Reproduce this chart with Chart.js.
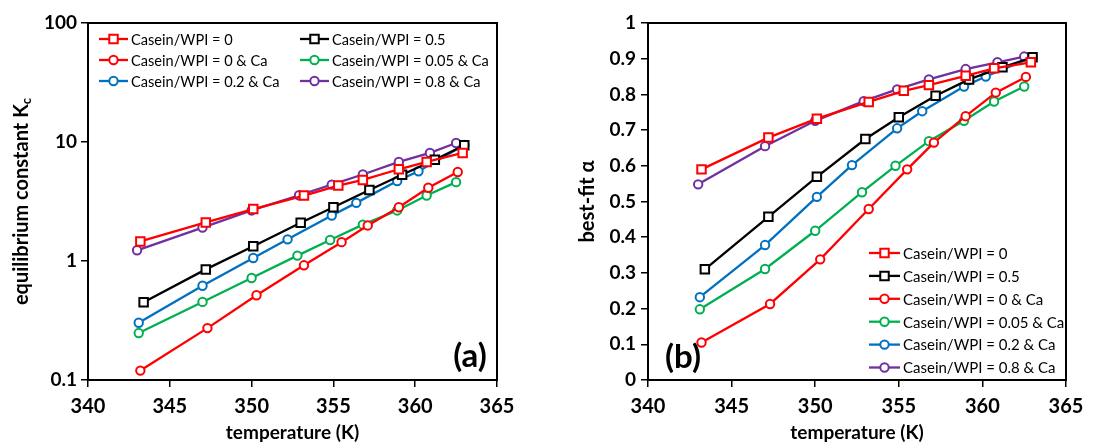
<!DOCTYPE html>
<html>
<head>
<meta charset="utf-8">
<script src="https://cdn.jsdelivr.net/npm/chart.js@4"></script>
<style>
  html, body { margin: 0; padding: 0; background: #fff; }
  #wrap { position: relative; width: 1104px; height: 446px; }
  .painel { position: absolute; top: 0; width: 552px; height: 446px; }
</style>
</head>
<body>
<div id="wrap">
  <div class="painel" style="left:0"><canvas id="graficoA" width="552" height="446"></canvas></div>
  <div class="painel" style="left:552px"><canvas id="graficoB" width="552" height="446"></canvas></div>
</div>
<script>
// series names / colours / markers
const series = ['Casein/WPI = 0', 'Casein/WPI = 0.5', 'Casein/WPI = 0 & Ca',
                'Casein/WPI = 0.05 & Ca', 'Casein/WPI = 0.2 & Ca', 'Casein/WPI = 0.8 & Ca'];
const cores = ['#ff0000', '#000000', '#ff0000', '#00b050', '#0070c0', '#7030a0'];
const marcadores = ['rect', 'rect', 'circle', 'circle', 'circle', 'circle'];

// temperatures (K) of each series
const temp0    = [343.2, 347.2, 350.1, 353.2, 355.3, 356.8, 359.0, 360.7, 362.9];
const temp05   = [343.4, 347.2, 350.1, 353.0, 355.0, 357.2, 359.2, 361.2, 363.0];
const temp0Ca  = [343.2, 347.3, 350.3, 353.2, 355.5, 357.1, 359.0, 360.8, 362.6];
const temp005Ca = [343.1, 347.0, 350.0, 352.8, 354.8, 356.8, 358.9, 360.7, 362.5];
const temp02Ca = [343.1, 347.0, 350.1, 352.2, 354.9, 356.4, 358.9, 360.2, 363.0];
const temp08Ca = [343.0, 347.0, 350.0, 352.9, 354.9, 356.8, 359.0, 360.9, 362.5];

// (a) equilibrium constant Kc
const kc0    = [1.46, 2.11, 2.73, 3.55, 4.30, 4.80, 5.90, 6.80, 8.10];
const kc05   = [0.45, 0.85, 1.33, 2.10, 2.83, 3.95, 5.30, 7.10, 9.40];
const kc0Ca  = [0.12, 0.273, 0.515, 0.92, 1.44, 1.99, 2.83, 4.13, 5.60];
const kc005Ca = [0.248, 0.453, 0.72, 1.11, 1.50, 2.02, 2.66, 3.55, 4.60];
const kc02Ca = [0.303, 0.62, 1.06, 1.52, 2.41, 3.08, 4.70, 5.68, 9.45];
const kc08Ca = [1.23, 1.91, 2.66, 3.57, 4.38, 5.33, 6.80, 8.10, 9.80];

// (b) best-fit alpha
const a0    = [0.590, 0.679, 0.732, 0.779, 0.810, 0.826, 0.852, 0.873, 0.890];
const a05   = [0.310, 0.457, 0.569, 0.675, 0.736, 0.796, 0.842, 0.876, 0.904];
const a0Ca  = [0.105, 0.213, 0.338, 0.479, 0.590, 0.665, 0.739, 0.805, 0.849];
const a005Ca = [0.198, 0.311, 0.418, 0.526, 0.600, 0.669, 0.726, 0.780, 0.822];
const a02Ca = [0.232, 0.378, 0.513, 0.602, 0.705, 0.753, 0.822, 0.850, 0.904];
const a08Ca = [0.548, 0.655, 0.726, 0.781, 0.814, 0.842, 0.871, 0.890, 0.906];

// axis ticks
const ticksX = [340, 345, 350, 355, 360, 365];
const ticksKc = [0.1, 1, 10, 100];

const temps = [temp0, temp05, temp0Ca, temp005Ca, temp02Ca, temp08Ca];
const valoresKc = [kc0, kc05, kc0Ca, kc005Ca, kc02Ca, kc08Ca];
const valoresAlfa = [a0, a05, a0Ca, a005Ca, a02Ca, a08Ca];

Chart.defaults.font.family = 'Lato';
Chart.defaults.color = '#000';

const RAIO_QUADRADO = 6;
const RAIO_CIRCULO = 4.2;

function montarDatasets(valores) {
  return series.map((nome, i) => ({
    label: nome,
    data: temps[i].map((t, j) => ({ x: t, y: valores[i][j] })),
    borderColor: cores[i],
    backgroundColor: '#fff',
    borderWidth: 2.3,
    pointStyle: marcadores[i],
    pointRadius: marcadores[i] === 'rect' ? RAIO_QUADRADO : RAIO_CIRCULO,
    pointBorderWidth: 2,
    pointBackgroundColor: '#fff',
    pointBorderColor: cores[i],
    tension: 0
  }));
}

function desenharMarcador(ctx, estilo, x, y, cor) {
  ctx.save();
  ctx.fillStyle = '#fff';
  ctx.strokeStyle = cor;
  ctx.lineWidth = 2;
  ctx.beginPath();
  if (estilo === 'rect') {
    const s = RAIO_QUADRADO * Math.SQRT1_2;
    ctx.rect(x - s, y - s, 2 * s, 2 * s);
  } else {
    ctx.arc(x, y, RAIO_CIRCULO, 0, Math.PI * 2);
  }
  ctx.fill();
  ctx.stroke();
  ctx.restore();
}

// legend drawn inside the plot area
const legendaPainel = {
  id: 'legendaPainel',
  afterDraw(chart, args, opts) {
    const ctx = chart.ctx;
    ctx.save();
    chart.data.datasets.forEach((ds, i) => {
      const col = i % opts.cols;
      const lin = Math.floor(i / opts.cols);
      const x = opts.x + col * opts.colWidth;
      const y = opts.y + lin * opts.rowHeight;
      ctx.strokeStyle = ds.borderColor;
      ctx.lineWidth = 2.3;
      ctx.beginPath();
      ctx.moveTo(x, y);
      ctx.lineTo(x + opts.lineLen, y);
      ctx.stroke();
      desenharMarcador(ctx, ds.pointStyle, x + opts.lineLen / 2, y, ds.borderColor);
      ctx.fillStyle = '#000';
      ctx.font = opts.fontSize + 'px Lato';
      ctx.textAlign = 'left';
      ctx.textBaseline = 'middle';
      ctx.fillText(ds.label, x + opts.lineLen + 3, y + 1);
    });
    ctx.restore();
  }
};

// frame, axis titles and panel letter
const molduraPainel = {
  id: 'molduraPainel',
  afterDraw(chart, args, opts) {
    const ctx = chart.ctx;
    const area = chart.chartArea;
    ctx.save();
    ctx.strokeStyle = '#000';
    ctx.lineWidth = 2;
    ctx.strokeRect(area.left, area.top, area.right - area.left, area.bottom - area.top);

    ctx.fillStyle = '#000';
    ctx.textBaseline = 'middle';
    ctx.textAlign = 'center';
    ctx.font = 'bold 19px Lato';
    ctx.fillText(opts.tituloX, (area.left + area.right) / 2, 433);

    // y title, rotated, with optional subscript
    ctx.save();
    ctx.translate(opts.tituloYx, (area.top + area.bottom) / 2);
    ctx.rotate(-Math.PI / 2);
    ctx.font = 'bold 20px Lato';
    const w1 = ctx.measureText(opts.tituloY).width;
    ctx.font = 'bold 13px Lato';
    const w2 = opts.subY ? ctx.measureText(opts.subY).width : 0;
    ctx.textAlign = 'left';
    ctx.font = 'bold 20px Lato';
    ctx.fillText(opts.tituloY, -(w1 + w2) / 2, 0);
    if (opts.subY) {
      ctx.font = 'bold 13px Lato';
      ctx.fillText(opts.subY, -(w1 + w2) / 2 + w1, 5);
    }
    ctx.restore();

    ctx.font = 'bold 33px Lato';
    ctx.textAlign = 'center';
    ctx.fillText(opts.letra, opts.letraX, opts.letraY);
    ctx.restore();
  }
};

function eixoX() {
  return {
    type: 'linear',
    min: 340,
    max: 365,
    afterBuildTicks: s => { s.ticks = ticksX.map(v => ({ value: v })); },
    afterFit: s => { s.height = 66; },
    ticks: { font: { size: 20, weight: 'bold' }, padding: 8, callback: v => String(v) },
    grid: { drawOnChartArea: false, tickLength: 7, color: '#000', lineWidth: 1.5 },
    border: { color: '#000', width: 2 }
  };
}

document.addEventListener('DOMContentLoaded', () => {
  new Chart(document.getElementById('graficoA'), {
    type: 'line',
    data: { datasets: montarDatasets(valoresKc) },
    plugins: [legendaPainel, molduraPainel],
    options: {
      responsive: false,
      animation: false,
      layout: { padding: { top: 23, right: 55, left: 0, bottom: 0 } },
      scales: {
        x: eixoX(),
        y: {
          type: 'logarithmic',
          min: 0.1,
          max: 100,
          afterBuildTicks: s => { s.ticks = ticksKc.map(v => ({ value: v })); },
          afterFit: s => { s.width = 88; },
          ticks: { font: { size: 19, weight: 'bold' }, padding: 4, callback: v => String(v) },
          grid: { drawOnChartArea: false, tickLength: 7, color: '#000', lineWidth: 1.5 },
          border: { color: '#000', width: 2 }
        }
      },
      plugins: {
        legend: { display: false },
        tooltip: { enabled: false },
        legendaPainel: { x: 99, y: 39, cols: 2, colWidth: 201, rowHeight: 21, lineLen: 29, fontSize: 14.6 },
        molduraPainel: { tituloX: 'temperature (K)', tituloY: 'equilibrium constant K', subY: 'c',
                         tituloYx: 22, letra: '(a)', letraX: 470, letraY: 356 }
      }
    }
  });

  new Chart(document.getElementById('graficoB'), {
    type: 'line',
    data: { datasets: montarDatasets(valoresAlfa) },
    plugins: [legendaPainel, molduraPainel],
    options: {
      responsive: false,
      animation: false,
      layout: { padding: { top: 23, right: 38, left: 0, bottom: 0 } },
      scales: {
        x: eixoX(),
        y: {
          type: 'linear',
          min: 0,
          max: 1,
          ticks: { stepSize: 0.1, font: { size: 19, weight: 'bold' }, padding: 5,
                   callback: v => String(Number(v.toFixed(1))) },
          afterFit: s => { s.width = 96; },
          grid: { drawOnChartArea: false, tickLength: 7, color: '#000', lineWidth: 1.5 },
          border: { color: '#000', width: 2 }
        }
      },
      plugins: {
        legend: { display: false },
        tooltip: { enabled: false },
        legendaPainel: { x: 317, y: 253, cols: 1, colWidth: 0, rowHeight: 22.9, lineLen: 31, fontSize: 15 },
        molduraPainel: { tituloX: 'temperature (K)', tituloY: 'best-fit \u03b1', subY: '',
                         tituloYx: 36, letra: '(b)', letraX: 131, letraY: 357 }
      }
    }
  });
});
</script>
</body>
</html>
